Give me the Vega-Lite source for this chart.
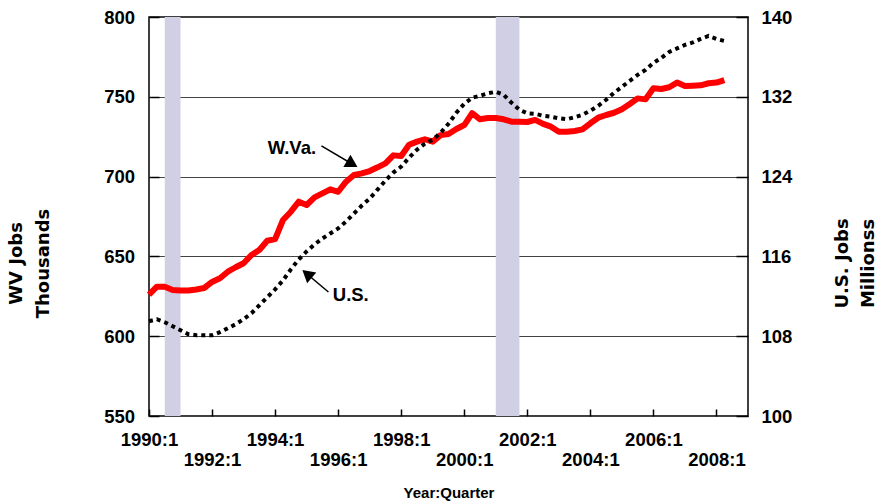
{
  "$schema": "https://vega.github.io/schema/vega-lite/v6.json",
  "width": 599,
  "height": 399,
  "autosize": {"type": "none"},
  "padding": {"left": 149, "top": 17, "right": 130, "bottom": 88},
  "background": "white",
  "config": {"view": {"stroke": "#000", "strokeWidth": 1.5}, "font": "Liberation Sans"},
  "datasets": {
    "series": [
      {"t": 1990.00, "wv": 626.0, "us": 109.5},
      {"t": 1990.25, "wv": 631.0, "us": 109.7},
      {"t": 1990.50, "wv": 631.0, "us": 109.4},
      {"t": 1990.75, "wv": 629.0, "us": 109.0},
      {"t": 1991.00, "wv": 628.6, "us": 108.6},
      {"t": 1991.25, "wv": 628.6, "us": 108.2},
      {"t": 1991.50, "wv": 629.3, "us": 108.1},
      {"t": 1991.75, "wv": 630.2, "us": 108.1},
      {"t": 1992.00, "wv": 634.0, "us": 108.1},
      {"t": 1992.25, "wv": 636.3, "us": 108.4},
      {"t": 1992.50, "wv": 640.4, "us": 108.8},
      {"t": 1992.75, "wv": 643.2, "us": 109.2},
      {"t": 1993.00, "wv": 645.7, "us": 109.7},
      {"t": 1993.25, "wv": 650.9, "us": 110.3},
      {"t": 1993.50, "wv": 654.0, "us": 111.1},
      {"t": 1993.75, "wv": 659.8, "us": 111.9},
      {"t": 1994.00, "wv": 660.8, "us": 112.7},
      {"t": 1994.25, "wv": 672.8, "us": 113.6},
      {"t": 1994.50, "wv": 678.0, "us": 114.7},
      {"t": 1994.75, "wv": 684.3, "us": 115.7},
      {"t": 1995.00, "wv": 682.2, "us": 116.5},
      {"t": 1995.25, "wv": 687.0, "us": 117.2},
      {"t": 1995.50, "wv": 689.5, "us": 117.8},
      {"t": 1995.75, "wv": 692.0, "us": 118.3},
      {"t": 1996.00, "wv": 690.5, "us": 118.8},
      {"t": 1996.25, "wv": 696.8, "us": 119.5},
      {"t": 1996.50, "wv": 701.0, "us": 120.3},
      {"t": 1996.75, "wv": 702.0, "us": 121.1},
      {"t": 1997.00, "wv": 703.5, "us": 121.8},
      {"t": 1997.25, "wv": 705.8, "us": 122.7},
      {"t": 1997.50, "wv": 708.3, "us": 123.6},
      {"t": 1997.75, "wv": 713.3, "us": 124.4},
      {"t": 1998.00, "wv": 712.9, "us": 125.0},
      {"t": 1998.25, "wv": 720.0, "us": 125.9},
      {"t": 1998.50, "wv": 721.9, "us": 126.7},
      {"t": 1998.75, "wv": 723.4, "us": 127.3},
      {"t": 1999.00, "wv": 721.9, "us": 127.7},
      {"t": 1999.25, "wv": 726.0, "us": 128.4},
      {"t": 1999.50, "wv": 726.7, "us": 129.3},
      {"t": 1999.75, "wv": 729.8, "us": 130.4},
      {"t": 2000.00, "wv": 732.3, "us": 131.3},
      {"t": 2000.25, "wv": 739.7, "us": 131.9},
      {"t": 2000.50, "wv": 735.9, "us": 132.1},
      {"t": 2000.75, "wv": 736.7, "us": 132.35},
      {"t": 2001.00, "wv": 736.7, "us": 132.5},
      {"t": 2001.25, "wv": 735.9, "us": 132.2},
      {"t": 2001.50, "wv": 734.4, "us": 131.4},
      {"t": 2001.75, "wv": 734.4, "us": 130.7},
      {"t": 2002.00, "wv": 734.2, "us": 130.35},
      {"t": 2002.25, "wv": 735.5, "us": 130.3},
      {"t": 2002.50, "wv": 733.0, "us": 130.1},
      {"t": 2002.75, "wv": 731.3, "us": 130.0},
      {"t": 2003.00, "wv": 728.1, "us": 129.85},
      {"t": 2003.25, "wv": 728.1, "us": 129.75},
      {"t": 2003.50, "wv": 728.6, "us": 129.95},
      {"t": 2003.75, "wv": 729.6, "us": 130.2},
      {"t": 2004.00, "wv": 733.4, "us": 130.6},
      {"t": 2004.25, "wv": 736.9, "us": 131.1},
      {"t": 2004.50, "wv": 738.6, "us": 131.7},
      {"t": 2004.75, "wv": 740.0, "us": 132.4},
      {"t": 2005.00, "wv": 742.2, "us": 133.0},
      {"t": 2005.25, "wv": 745.5, "us": 133.6},
      {"t": 2005.50, "wv": 749.0, "us": 134.2},
      {"t": 2005.75, "wv": 748.4, "us": 134.7},
      {"t": 2006.00, "wv": 755.3, "us": 135.4},
      {"t": 2006.25, "wv": 754.9, "us": 135.9},
      {"t": 2006.50, "wv": 756.0, "us": 136.5},
      {"t": 2006.75, "wv": 758.9, "us": 136.85},
      {"t": 2007.00, "wv": 756.8, "us": 137.2},
      {"t": 2007.25, "wv": 757.0, "us": 137.45},
      {"t": 2007.50, "wv": 757.2, "us": 137.8},
      {"t": 2007.75, "wv": 758.5, "us": 138.1},
      {"t": 2008.00, "wv": 758.9, "us": 137.8},
      {"t": 2008.25, "wv": 760.5, "us": 137.6}
    ],
    "recessions": [
      {"start": 1990.5, "end": 1991.0},
      {"start": 2001.0, "end": 2001.75}
    ],
    "labels": [
      {"label": "W.Va.", "x": 1994.534, "y": 718.2},
      {"label": "U.S.", "x": 1996.40, "y": 625.8}
    ],
    "arrows": [
      {"label": "W.Va.", "x": 1995.469, "y": 719.2, "x2": 1996.445, "y2": 707.9},
      {"label": "U.S.", "x": 1995.691, "y": 627.7, "x2": 1995.013, "y2": 639.0}
    ]
  },
  "layer": [
    {
      "data": {"name": "recessions"},
      "mark": {"type": "rect", "color": "#D1CFE4"},
      "encoding": {
        "x": {
          "field": "start", "type": "quantitative",
          "scale": {"domain": [1990, 2009], "nice": false, "zero": false},
          "axis": {
            "title": "Year:Quarter",
            "values": [1990, 1992, 1994, 1996, 1998, 2000, 2002, 2004, 2006, 2008],
            "labelExpr": "(datum.value - 1990) % 4 == 0 ? datum.value + ':1' : ['', datum.value + ':1']",
            "grid": false, "domain": false,
            "tickSize": -7, "tickColor": "#000", "tickWidth": 1.5,
            "labelPadding": 21.3, "labelBaseline": "top", "labelLineHeight": 20,
            "labelFont": "Liberation Sans", "labelFontWeight": "bold", "labelFontSize": 18.5, "labelColor": "#000",
            "labelOverlap": false, "labelFlush": false,
            "titleFont": "Liberation Sans", "titleFontWeight": "bold", "titleFontSize": 15, "titleColor": "#000",
            "titleY": 76, "titleBaseline": "middle"
          }
        },
        "x2": {"field": "end"}
      }
    },
    {
      "layer": [
        {
          "data": {"name": "series"},
          "mark": {"type": "line", "color": "#FF0000", "strokeWidth": 6, "strokeJoin": "round"},
          "encoding": {
            "x": {"field": "t", "type": "quantitative", "scale": {"domain": [1990, 2009], "nice": false, "zero": false}},
            "y": {
              "field": "wv", "type": "quantitative",
              "scale": {"domain": [550, 800], "nice": false, "zero": false},
              "axis": {
                "orient": "left",
                "title": ["WV Jobs", "Thousands"],
                "values": [550, 600, 650, 700, 750, 800],
                "grid": true, "gridColor": "#444", "gridWidth": 1.2,
                "domain": false,
                "tickSize": -10, "tickColor": "#000", "tickWidth": 1.5,
                "labelPadding": 24.4,
                "labelFont": "Liberation Sans", "labelFontWeight": "bold", "labelFontSize": 18.5, "labelColor": "#000",
                "titleFont": "DejaVu Sans", "titleFontWeight": "bold", "titleFontSize": 18, "titleColor": "#000",
                "titleAngle": 270, "titleAlign": "center", "titleBaseline": "middle", "titleLineHeight": 27,
                "titleX": -132.4, "titleY": 246
              }
            }
          }
        },
        {
          "data": {"name": "labels"},
          "mark": {"type": "text", "font": "Liberation Sans", "fontWeight": "bold", "fontSize": 18.5, "color": "#000", "align": "center", "baseline": "middle"},
          "encoding": {
            "x": {"field": "x", "type": "quantitative", "scale": {"domain": [1990, 2009], "nice": false, "zero": false}},
            "y": {"field": "y", "type": "quantitative"},
            "text": {"field": "label"}
          }
        },
        {
          "data": {"name": "arrows"},
          "mark": {"type": "rule", "color": "#000", "strokeWidth": 1.5},
          "encoding": {
            "x": {"field": "x", "type": "quantitative", "scale": {"domain": [1990, 2009], "nice": false, "zero": false}},
            "y": {"field": "y", "type": "quantitative"},
            "x2": {"field": "x2"},
            "y2": {"field": "y2"}
          }
        },
        {
          "data": {"name": "arrows"},
          "mark": {"type": "point", "shape": "triangle-right", "filled": true, "color": "#000", "opacity": 1, "size": 200},
          "encoding": {
            "x": {"field": "x2", "type": "quantitative", "scale": {"domain": [1990, 2009], "nice": false, "zero": false}},
            "y": {"field": "y2", "type": "quantitative"},
            "angle": {"field": "label", "type": "nominal", "scale": {"domain": ["W.Va.", "U.S."], "range": [30.3, 220.2]}, "legend": null}
          }
        }
      ]
    },
    {
      "data": {"name": "series"},
      "mark": {"type": "line", "color": "#000", "strokeWidth": 4, "strokeDash": [4, 4], "strokeCap": "butt"},
      "encoding": {
        "x": {"field": "t", "type": "quantitative", "scale": {"domain": [1990, 2009], "nice": false, "zero": false}},
        "y": {
          "field": "us", "type": "quantitative",
          "scale": {"domain": [100, 140], "nice": false, "zero": false},
          "axis": {
            "orient": "right",
            "title": ["U.S. Jobs", "Millionss"],
            "values": [100, 108, 116, 124, 132, 140],
            "grid": false, "domain": false,
            "tickSize": -12, "tickColor": "#000", "tickWidth": 1.5,
            "labelPadding": 25,
            "labelFont": "Liberation Sans", "labelFontWeight": "bold", "labelFontSize": 18.5, "labelColor": "#000",
            "titleFont": "DejaVu Sans", "titleFontWeight": "bold", "titleFontSize": 18, "titleColor": "#000",
            "titleAngle": 270, "titleAlign": "center", "titleBaseline": "middle", "titleLineHeight": 26,
            "titleX": 94.3, "titleY": 246
          }
        }
      }
    }
  ],
  "resolve": {"scale": {"y": "independent"}}
}
